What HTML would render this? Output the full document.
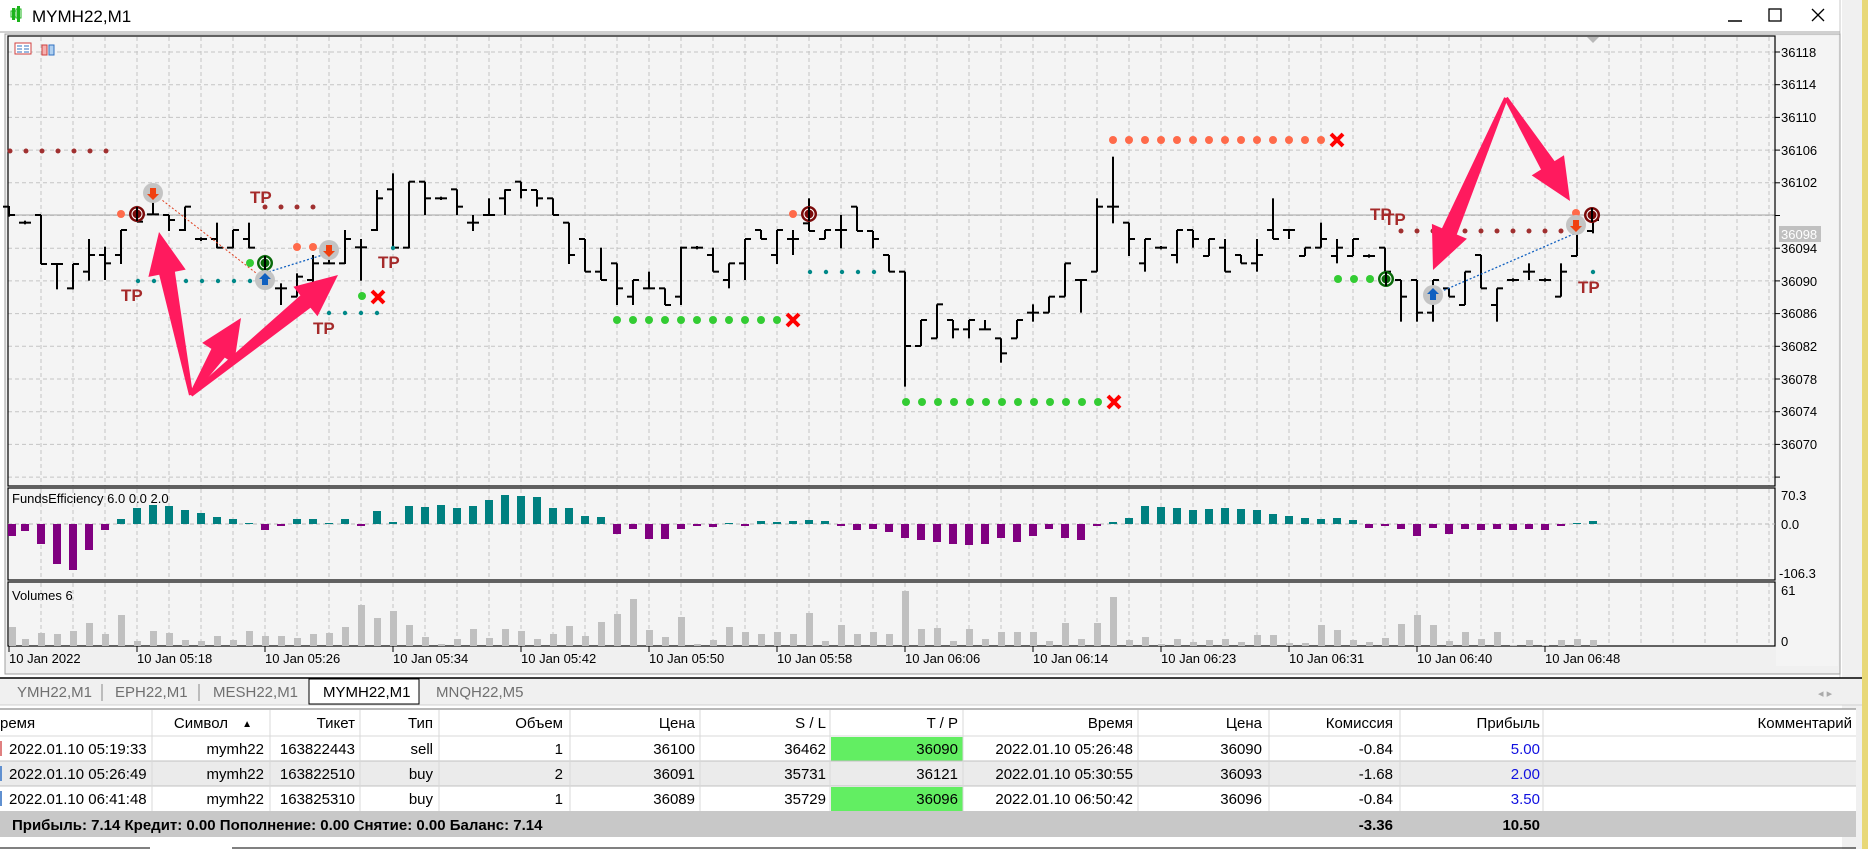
<!DOCTYPE html>
<html><head><meta charset="utf-8">
<style>
html,body{margin:0;padding:0;background:#fff;}
svg{display:block;}
.t{font-family:"Liberation Sans Narrow","Liberation Sans",sans-serif;}
</style></head>
<body>
<svg id="s" width="1868" height="849" xmlns="http://www.w3.org/2000/svg" font-family="Liberation Sans, sans-serif">
<rect x="0" y="0" width="1868" height="849" fill="#ffffff"/>
<rect x="1842" y="0" width="20" height="849" fill="#f0f0f0"/>
<rect x="1862" y="0" width="6" height="849" fill="#e8d878"/>
<line x1="1840" y1="0" x2="1840" y2="680" stroke="#c8c8c8"/>
<g>
<rect x="12" y="8" width="3" height="12" fill="#1db41d"/><rect x="17" y="6" width="3" height="16" fill="#1db41d"/>
<rect x="11" y="11" width="5" height="6" fill="none" stroke="#1db41d"/><rect x="16" y="9" width="5" height="9" fill="none" stroke="#1db41d"/>
</g>
<text x="32" y="22" font-size="17" fill="#000">MYMH22,M1</text>
<line x1="1728" y1="21" x2="1742" y2="21" stroke="#000" stroke-width="1.5"/>
<rect x="1769" y="9" width="12" height="12" fill="none" stroke="#000" stroke-width="1.3"/>
<path d="M1812 9 L1824 21 M1824 9 L1812 21" stroke="#000" stroke-width="1.3"/>
<line x1="0" y1="32" x2="1840" y2="32" stroke="#a0a0a0"/>
<rect x="5" y="34" width="1835" height="640" fill="#f0f0f0" stroke="#a0a0a0"/>
<rect x="8" y="36" width="1767" height="450" fill="#f4f4f4"/>
<rect x="8" y="488" width="1767" height="92" fill="#f4f4f4"/>
<rect x="8" y="582" width="1767" height="64" fill="#f4f4f4"/>
<rect x="1776" y="36" width="62" height="630" fill="#f4f4f4"/>
<g id="grid"></g>
<line x1="8" y1="215" x2="1775" y2="215" stroke="#b4b4b4" stroke-width="1.2"/>
<g stroke="#000" stroke-width="1.2" fill="none">
<rect x="8" y="36" width="1767" height="450"/>
<rect x="8" y="488" width="1767" height="92"/>
<rect x="8" y="582" width="1767" height="64"/>
</g>
<line x1="8" y1="524" x2="1775" y2="524" stroke="#b8b8b8" stroke-dasharray="4,3"/>
<rect x="15" y="43" width="16" height="11" fill="#fff" stroke="#d04040"/><path d="M17 46h5M17 49h5M17 52h5M24 46h5M24 49h5M24 52h5" stroke="#3070c0"/>
<path d="M42 45h5v10h-5z" fill="#f5b0b0" stroke="#d04040"/><path d="M49 45h5v10h-5z" fill="#b0d0f0" stroke="#3070c0"/>
<path d="M1587 37 L1599 37 L1593 43 Z" fill="#b8b8b8"/>
<g id="bars"></g>
<g id="ind"></g>
<g id="vol"></g>
<g id="ann"></g>
<g font-size="13" fill="#000" class="t">
<text x="1781" y="57">36118</text><text x="1781" y="89">36114</text><text x="1781" y="122">36110</text>
<text x="1781" y="155">36106</text><text x="1781" y="187">36102</text>
<rect x="1779" y="226" width="42" height="16" fill="#c0c0c0"/><text x="1781" y="239" fill="#fff">36098</text>
<text x="1781" y="253">36094</text><text x="1781" y="286">36090</text><text x="1781" y="318">36086</text>
<text x="1781" y="351">36082</text><text x="1781" y="384">36078</text><text x="1781" y="416">36074</text><text x="1781" y="449">36070</text>
<text x="1781" y="500">70.3</text><text x="1781" y="529">0.0</text><text x="1779" y="578">-106.3</text>
<text x="1781" y="595">61</text><text x="1781" y="646">0</text>
<text x="12" y="503">FundsEfficiency 6.0 0.0 2.0</text>
<text x="12" y="600">Volumes 6</text>
</g>
<g id="aticks" stroke="#000"></g>
<g font-size="13" fill="#000" class="t">
<text x="9" y="663">10 Jan 2022</text><text x="137" y="663">10 Jan 05:18</text><text x="265" y="663">10 Jan 05:26</text>
<text x="393" y="663">10 Jan 05:34</text><text x="521" y="663">10 Jan 05:42</text><text x="649" y="663">10 Jan 05:50</text>
<text x="777" y="663">10 Jan 05:58</text><text x="905" y="663">10 Jan 06:06</text><text x="1033" y="663">10 Jan 06:14</text>
<text x="1161" y="663">10 Jan 06:23</text><text x="1289" y="663">10 Jan 06:31</text><text x="1417" y="663">10 Jan 06:40</text>
<text x="1545" y="663">10 Jan 06:48</text>
</g>
<rect x="0" y="678" width="1862" height="27" fill="#f0f0f0"/>
<line x1="0" y1="678" x2="1862" y2="678" stroke="#000" stroke-width="1.5"/>
<rect x="309" y="679" width="110" height="25" fill="#fff" stroke="#000"/>
<g font-size="15" class="t" fill="#707070">
<text x="17" y="697">YMH22,M1</text><line x1="102" y1="684" x2="102" y2="701" stroke="#888"/>
<text x="115" y="697">EPH22,M1</text><line x1="199" y1="684" x2="199" y2="701" stroke="#888"/>
<text x="213" y="697">MESH22,M1</text>
<text x="323" y="697" fill="#000">MYMH22,M1</text>
<text x="436" y="697">MNQH22,M5</text>
<text x="1818" y="697" font-size="11" fill="#aaa">◂  ▸</text>
</g>
<line x1="0" y1="705" x2="1862" y2="705" stroke="#d0d0d0"/>
<rect x="0" y="709" width="1856" height="27" fill="#fff"/>
<line x1="0" y1="709" x2="1856" y2="709" stroke="#a0a0a0" stroke-width="1.5"/>
<rect x="0" y="736" width="1856" height="25" fill="#fff"/>
<rect x="0" y="761" width="1856" height="25" fill="#ebebeb"/>
<rect x="0" y="786" width="1856" height="25" fill="#fff"/>
<rect x="831" y="737" width="132" height="24" fill="#62ee62"/>
<rect x="831" y="787" width="132" height="24" fill="#62ee62"/>
<rect x="0" y="811" width="1856" height="26" fill="#c8c8c8"/>
<g stroke="#d8d8d8">
<line x1="0" y1="736" x2="1856" y2="736"/><line x1="0" y1="761" x2="1856" y2="761" stroke="#c0c0c0"/><line x1="0" y1="786" x2="1856" y2="786" stroke="#c0c0c0"/>
<line x1="152" y1="710" x2="152" y2="811"/><line x1="270" y1="710" x2="270" y2="811"/><line x1="360" y1="710" x2="360" y2="811"/>
<line x1="439" y1="710" x2="439" y2="811"/><line x1="570" y1="710" x2="570" y2="811"/><line x1="700" y1="710" x2="700" y2="811"/>
<line x1="830" y1="710" x2="830" y2="811"/><line x1="963" y1="710" x2="963" y2="811"/><line x1="1138" y1="710" x2="1138" y2="811"/>
<line x1="1269" y1="710" x2="1269" y2="811"/><line x1="1400" y1="710" x2="1400" y2="811"/><line x1="1543" y1="710" x2="1543" y2="811"/>
</g>
<line x1="0" y1="848" x2="150" y2="848" stroke="#000"/><line x1="232" y1="848" x2="1856" y2="848" stroke="#000"/>
<g font-size="15" class="t" fill="#000" text-anchor="end">
<text x="0" y="728" text-anchor="start">ремя</text>
<text x="228" y="728">Символ</text><text x="252" y="727" font-size="10">▲</text>
<text x="355" y="728">Тикет</text><text x="433" y="728">Тип</text><text x="563" y="728">Объем</text>
<text x="695" y="728">Цена</text><text x="826" y="728">S / L</text><text x="958" y="728">T / P</text>
<text x="1133" y="728">Время</text><text x="1262" y="728">Цена</text><text x="1393" y="728">Комиссия</text>
<text x="1540" y="728">Прибыль</text><text x="1852" y="728">Комментарий</text>

<text x="9" y="754" text-anchor="start">2022.01.10 05:19:33</text><text x="264" y="754">mymh22</text><text x="355" y="754">163822443</text>
<text x="433" y="754">sell</text><text x="563" y="754">1</text><text x="695" y="754">36100</text><text x="826" y="754">36462</text>
<text x="958" y="754">36090</text><text x="1133" y="754">2022.01.10 05:26:48</text><text x="1262" y="754">36090</text>
<text x="1393" y="754">-0.84</text><text x="1540" y="754" fill="#1010e0">5.00</text>

<text x="9" y="779" text-anchor="start">2022.01.10 05:26:49</text><text x="264" y="779">mymh22</text><text x="355" y="779">163822510</text>
<text x="433" y="779">buy</text><text x="563" y="779">2</text><text x="695" y="779">36091</text><text x="826" y="779">35731</text>
<text x="958" y="779">36121</text><text x="1133" y="779">2022.01.10 05:30:55</text><text x="1262" y="779">36093</text>
<text x="1393" y="779">-1.68</text><text x="1540" y="779" fill="#1010e0">2.00</text>

<text x="9" y="804" text-anchor="start">2022.01.10 06:41:48</text><text x="264" y="804">mymh22</text><text x="355" y="804">163825310</text>
<text x="433" y="804">buy</text><text x="563" y="804">1</text><text x="695" y="804">36089</text><text x="826" y="804">35729</text>
<text x="958" y="804">36096</text><text x="1133" y="804">2022.01.10 06:50:42</text><text x="1262" y="804">36096</text>
<text x="1393" y="804">-0.84</text><text x="1540" y="804" fill="#1010e0">3.50</text>

<text x="1393" y="830" font-weight="bold">-3.36</text><text x="1540" y="830" font-weight="bold">10.50</text>
<text x="12" y="830" text-anchor="start" font-weight="bold">Прибыль: 7.14  Кредит: 0.00  Пополнение: 0.00  Снятие: 0.00  Баланс: 7.14</text>
</g>
<g stroke-width="2"><line x1="1" y1="741" x2="1" y2="756" stroke="#e08080"/><line x1="1" y1="766" x2="1" y2="781" stroke="#6090d0"/><line x1="1" y1="791" x2="1" y2="806" stroke="#6090d0"/></g>
<g font-family="Liberation Sans Narrow, Liberation Sans, sans-serif" font-weight="bold" font-size="17" fill="#a52a2a">
<text x="250" y="203">TP</text>
<text x="121" y="301">TP</text>
<text x="313" y="334">TP</text>
<text x="378" y="268">TP</text>
<text x="1370" y="220">TP</text>
<text x="1384" y="225">TP</text>
<text x="1578" y="293">TP</text>
</g>
</svg>
<script>
var NS="http://www.w3.org/2000/svg";
function el(p,t,a){var e=document.createElementNS(NS,t);for(var k in a)e.setAttribute(k,a[k]);p.appendChild(e);return e;}
var g=document.getElementById('grid');
for(var x=41;x<1775;x+=32){
 el(g,'line',{x1:x,y1:37,x2:x,y2:486,stroke:'#c4c4c4','stroke-dasharray':'4,3'});
 el(g,'line',{x1:x,y1:489,x2:x,y2:580,stroke:'#c4c4c4','stroke-dasharray':'4,3'});
 el(g,'line',{x1:x,y1:583,x2:x,y2:646,stroke:'#c4c4c4','stroke-dasharray':'4,3'});
}
for(var i=0;i<14;i++){var y=52+i*32.7;el(g,'line',{x1:8,y1:y,x2:1775,y2:y,stroke:'#c4c4c4','stroke-dasharray':'4,3'});
 el(g,'line',{x1:1775,y1:y,x2:1780,y2:y,stroke:'#000'});}
var B=[[258,290,260,285],[305,310,308,308],[285,432,285,432],[432,508,432,432],[432,508,505,432],[357,482,455,405],[380,480,405,430],[330,432,405,330],[262,305,285,305],[240,285,283,283],
[285,333,285,300],[260,333,330,260],[355,360,357,357],[308,385,357,383],[330,385,383,330],[308,385,357,383],[470,505,480,500],[490,555,505,505],[460,530,530,470],[405,505,480,430],
[380,432,430,430],[330,432,430,357],[357,482,382,382],[210,333,330,235],[160,385,208,383],[185,385,383,185],[185,285,185,235],[233,237,235,235],[208,285,208,260],[285,333,308,308],
[235,285,285,285],[208,285,235,210],[185,235,185,210],[210,260,210,235],[235,285,235,285],[308,432,308,405],[357,455,357,455],[383,480,455,480],[430,555,430,505],[480,555,530,480],
[455,505,505,505],[505,555,505,555],[380,555,530,383],[381,385,383,383],[383,455,405,455],[430,505,480,430],[357,480,430,357],[330,357,330,357],[330,432,405,330],[330,405,357,357],
[235,333,310,333],[330,357,357,330],[285,385,330,330],[260,333,260,333],[333,385,333,357],[405,455,405,455],[455,800,455,678],[600,678,678,600],[553,655,655,553],[600,655,600,628],
[600,655,628,600],[600,628,628,628],[655,728,655,700],[600,655,655,600],[553,605,578,578],[530,578,578,530],[430,530,530,430],[480,578,480,480],[235,455,455,260],[110,310,260,260],
[308,408,308,357],[357,455,430,357],[381,385,383,383],[330,430,405,330],[330,383,330,357],[357,408,408,357],[357,455,383,455],[405,430,405,430],[357,455,430,405],[235,357,330,357],
[330,357,330,330],[383,408,408,383],[308,383,383,357],[357,430,408,383],[357,408,408,357],[406,410,408,408],[383,455,383,455],[480,605,480,530],[480,605,480,578],[480,605,578,480],
[505,530,505,530],[455,555,555,455],[405,505,405,505],[505,605,555,505],[478,482,480,480],[430,480,455,455],[478,482,480,480],[430,530,530,455],[333,408,408,333],[285,340,333,300]];
var bg=document.getElementById('bars');
B.forEach(function(b,k){var x=9+16*k;var f=function(v){return 120+v/3;};
 var h=f(b[0]),l=f(b[1]);if(l-h<2){h-=1;l+=1;}
 el(bg,'line',{x1:x,y1:h,x2:x,y2:l,stroke:'#000','stroke-width':2});
 el(bg,'line',{x1:x-6,y1:f(b[2]),x2:x,y2:f(b[2]),stroke:'#000','stroke-width':2});
 el(bg,'line',{x1:x,y1:f(b[3]),x2:x+6,y2:f(b[3]),stroke:'#000','stroke-width':2});
});
var I=[-12,-7,-20,-40,-46,-26,-6,5,16,19,18,14,11,7,5,1,-6,-2,5,5,1,5,-2,13,2,18,17,19,16,18,24,29,28,27,16,16,8,7,-10,-5,-15,-15,-5,-2,
-3,1,-2,3,2,3,4,3,-2,-6,-5,-8,-14,-16,-18,-20,-21,-20,-14,-18,-12,-5,-14,-16,-2,2,6,18,17,16,14,15,16,15,14,10,8,6,5,6,4,
-4,-2,-5,-12,-4,-10,-5,-6,-5,-6,-5,-6,-2,1,3];
var ig=document.getElementById('ind');
I.forEach(function(v,k){var x=9+16*k-4;if(x<8)x=8;var c=v>=0?'#008080':'#800080';
 el(ig,'rect',{x:x,y:v>=0?524-v:524,width:8,height:Math.max(1,Math.abs(v)),fill:c});});
var V=[19,7,13,12,15,23,12,31,5,15,13,6,5,10,6,15,10,10,8,12,13,19,41,28,35,21,9,2,7,17,8,17,15,7,12,20,10,24,32,47,16,9,29,2,6,19,14,12,14,12,33,5,21,12,14,12,
55,17,18,5,17,7,14,14,14,5,23,7,23,49,6,9,2,7,4,6,7,4,11,11,3,3,21,16,6,4,8,22,31,21,5,14,7,14,1,6,1,6,7,6];
var vg=document.getElementById('vol');
V.forEach(function(v,k){var x=9+16*k-3;if(x<9)x=9;el(vg,'rect',{x:x,y:646-v,width:7,height:v,fill:'#c0c0c0'});});
var at=document.getElementById('aticks');
[9,137,265,393,521,649,777,905,1033,1161,1289,1417,1545].forEach(function(x){el(at,'line',{x1:x,y1:646,x2:x,y2:652});});
var a=document.getElementById('ann');
function dots(x0,x1,y,step,r,c){for(var x=x0;x<=x1+0.5;x+=step)el(a,'circle',{cx:x,cy:y,r:r,fill:c});}
function X(x,y){el(a,'path',{d:'M'+(x-6)+' '+(y-6)+'L'+(x+6)+' '+(y+6)+'M'+(x+6)+' '+(y-6)+'L'+(x-6)+' '+(y+6),stroke:'#f00','stroke-width':4});}
function icon(x,y,up){el(a,'circle',{cx:x,cy:y,r:10,fill:'#c4c4c4'});
 var c=up?'#1060c0':'#f04010';
 if(up)el(a,'path',{d:'M'+x+' '+(y-7)+'l6 6h-3v6h-6v-6h-3z',fill:c});else el(a,'path',{d:'M'+x+' '+(y+7)+'l6 -6h-3v-6h-6v6h-3z',fill:c});}
function cl(x,y,c){el(a,'circle',{cx:x,cy:y,r:8,fill:c});el(a,'circle',{cx:x,cy:y,r:5,fill:'none',stroke:'#fff','stroke-width':1});el(a,'line',{x1:x,y1:y-7,x2:x,y2:y+7,stroke:'#000','stroke-width':2});}
dots(10,121,151,16,2.5,'#a03030');
dots(265,313,207,16,2.5,'#a03030');
dots(138,250,281,16,2.2,'#008888');
dots(329,378,313,16,2.2,'#008888');
dots(810,874,272,16,2.2,'#008888');
dots(1401,1561,231,16,2.5,'#a03030');
dots(617,778,320,16,4,'#33cc33');X(793,320);
dots(906,1098,402,16,4,'#33cc33');X(1114,402);
dots(1113,1321,140,16,4,'#ff6a4a');X(1337,140);
dots(1338,1370,279,16,4,'#33cc33');
el(a,'circle',{cx:362,cy:296,r:4,fill:'#33cc33'});X(378,297);
el(a,'circle',{cx:250,cy:263,r:4,fill:'#33cc33'});
el(a,'circle',{cx:121,cy:214,r:4,fill:'#ff6a4a'});el(a,'circle',{cx:793,cy:214,r:4,fill:'#ff6a4a'});
el(a,'circle',{cx:297,cy:247,r:4,fill:'#ff6a4a'});el(a,'circle',{cx:313,cy:247,r:4,fill:'#ff6a4a'});
el(a,'circle',{cx:1576,cy:213,r:4,fill:'#ff6a4a'});
el(a,'circle',{cx:393,cy:248,r:2.2,fill:'#008888'});el(a,'circle',{cx:1593,cy:272,r:2.2,fill:'#008888'});
el(a,'line',{x1:153,y1:193,x2:265,y2:280,stroke:'#e04020','stroke-dasharray':'2,2'});
el(a,'line',{x1:265,y1:273,x2:329,y2:253,stroke:'#1060c0','stroke-dasharray':'2,2','stroke-width':1.3});
el(a,'line',{x1:1433,y1:295,x2:1576,y2:233,stroke:'#1060c0','stroke-dasharray':'2,2','stroke-width':1.3});
cl(137,214,'#7a0a0a');cl(809,214,'#7a0a0a');cl(1592,215,'#7a0a0a');
cl(265,263,'#0a6a0a');cl(1386,279,'#0a6a0a');
icon(153,193,false);icon(265,280,true);icon(329,250,false);icon(1433,295,true);icon(1576,225,false);
function arrow(bx,by,tx,ty){var dx=tx-bx,dy=ty-by,L=Math.sqrt(dx*dx+dy*dy),ux=dx/L,uy=dy/L,nx=-uy,ny=ux;
 var P=function(t,w){return (bx+ux*t+nx*w).toFixed(1)+','+(by+uy*t+ny*w).toFixed(1);};
 var h=L-42;
 var pts=[P(0,2),P(h,8),P(h,19),P(L,0),P(h,-19),P(h,-8),P(0,-2)].join(' ');
 el(a,'polygon',{points:pts,fill:'#ff1a5e'});}
arrow(191,395,159,232);arrow(191,395,241,318);arrow(191,395,338,275);
arrow(1506,98,1433,270);arrow(1506,98,1570,201);
</script>
</body></html>
